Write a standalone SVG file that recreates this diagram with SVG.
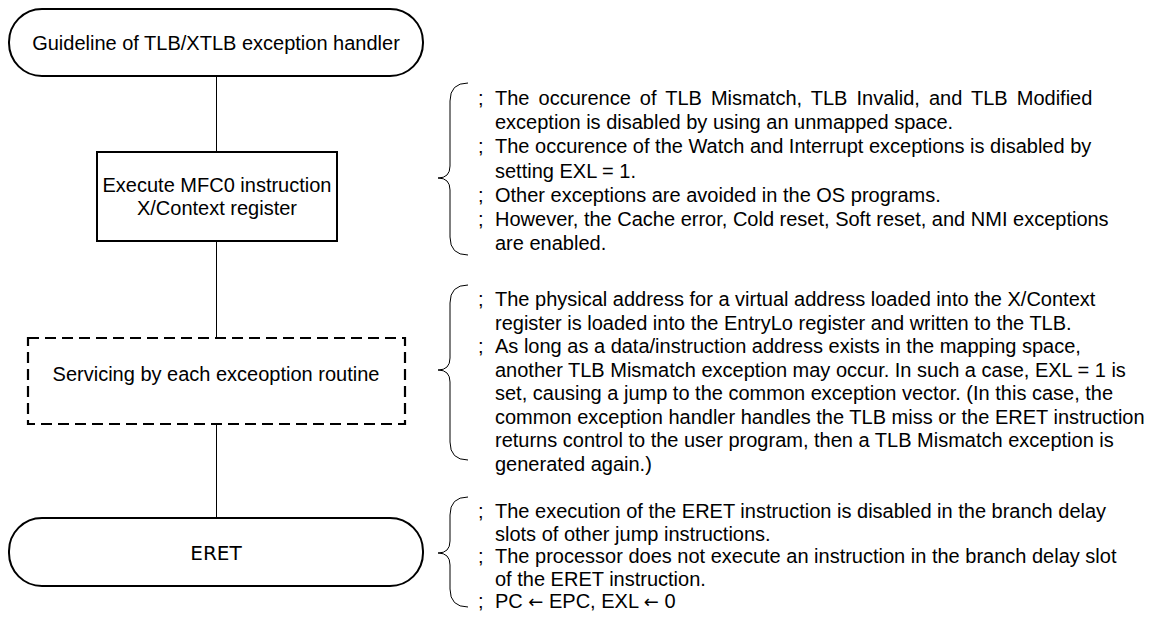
<svg xmlns="http://www.w3.org/2000/svg" width="1152" height="619" viewBox="0 0 1152 619">
<style>
.box{fill:#fff;stroke:#000;stroke-width:2}
.dash{fill:#fff;stroke:#000;stroke-width:2.2;stroke-dasharray:11 6}
.conn{stroke:#000;stroke-width:1;fill:none}
.brace{stroke:#000;stroke-width:1;fill:none}
.t{font-family:"Liberation Sans",Arial,sans-serif;font-size:20px;fill:#000}
.c{text-anchor:middle}
.d{font-family:"DejaVu Sans",sans-serif;font-size:20px;fill:#000;text-anchor:middle}
.arr{font-family:"DejaVu Sans",sans-serif;font-size:18px}
</style>
<rect width="1152" height="619" fill="#fff"/>
<g id="connectors">
<line class="conn" x1="216.5" y1="76" x2="216.5" y2="152"/>
<line class="conn" x1="216.5" y1="241" x2="216.5" y2="338"/>
<line class="conn" x1="216.5" y1="424" x2="216.5" y2="518"/>
</g>
<g id="start">
<rect class="box" x="9" y="9" width="414" height="67" rx="33" ry="33"/>
<text class="t c" x="216" y="50">Guideline of TLB/XTLB exception handler</text>
</g>
<g id="mfc0">
<rect class="box" x="97" y="152" width="240" height="89"/>
<text class="t c" x="217" y="192">Execute MFC0 instruction</text>
<text class="t c" x="217" y="215">X/Context register</text>
</g>
<g id="servicing">
<rect class="dash" x="28" y="338" width="377" height="86"/>
<text class="t c" x="216" y="381">Servicing by each exceoption routine</text>
</g>
<g id="eret">
<rect class="box" x="9" y="518" width="414" height="68" rx="33" ry="33"/>
<text class="d" x="216" y="560">ERET</text>
</g>
<g id="note1">
<path class="brace" d="M468,83 Q450,83 450,101 L450,166 Q450,178 438,178 Q450,178 450,190 L450,237 Q450,255 468,255"/>
<text class="t" x="478" y="105">;</text>
<text class="t" x="478" y="153">;</text>
<text class="t" x="478" y="202">;</text>
<text class="t" x="478" y="226">;</text>
<text class="t" x="495" y="105" word-spacing="3.5">The occurence of TLB Mismatch, TLB Invalid, and TLB Modified</text>
<text class="t" x="495" y="129">exception is disabled by using an unmapped space.</text>
<text class="t" x="495" y="153">The occurence of the Watch and Interrupt exceptions is disabled by</text>
<text class="t" x="495" y="178">setting EXL = 1.</text>
<text class="t" x="495" y="202">Other exceptions are avoided in the OS programs.</text>
<text class="t" x="495" y="226">However, the Cache error, Cold reset, Soft reset, and NMI exceptions</text>
<text class="t" x="495" y="250">are enabled.</text>
</g>
<g id="note2">
<path class="brace" d="M468,285 Q450,285 450,303 L450,358 Q450,370 438,370 Q450,370 450,382 L450,442 Q450,460 468,460"/>
<text class="t" x="478" y="306">;</text>
<text class="t" x="478" y="353">;</text>
<text class="t" x="495" y="306">The physical address for a virtual address loaded into the X/Context</text>
<text class="t" x="495" y="329.5">register is loaded into the EntryLo register and written to the TLB.</text>
<text class="t" x="495" y="353">As long as a data/instruction address exists in the mapping space,</text>
<text class="t" x="495" y="376.5">another TLB Mismatch exception may occur. In such a case, EXL = 1 is</text>
<text class="t" x="495" y="400">set, causing a jump to the common exception vector. (In this case, the</text>
<text class="t" x="495" y="423.5">common exception handler handles the TLB miss or the ERET instruction</text>
<text class="t" x="495" y="447">returns control to the user program, then a TLB Mismatch exception is</text>
<text class="t" x="495" y="470.5">generated again.)</text>
</g>
<g id="note3">
<path class="brace" d="M468,497 Q450,497 450,515 L450,541 Q450,553 438,553 Q450,553 450,565 L450,589 Q450,607 468,607"/>
<text class="t" x="478" y="518">;</text>
<text class="t" x="478" y="563">;</text>
<text class="t" x="478" y="608">;</text>
<text class="t" x="495" y="518">The execution of the ERET instruction is disabled in the branch delay</text>
<text class="t" x="495" y="540.5">slots of other jump instructions.</text>
<text class="t" x="495" y="563">The processor does not execute an instruction in the branch delay slot</text>
<text class="t" x="495" y="585.5">of the ERET instruction.</text>
<text class="t" x="495" y="608">PC <tspan class="arr">←</tspan> EPC, EXL <tspan class="arr">←</tspan> 0</text>
</g>
</svg>
